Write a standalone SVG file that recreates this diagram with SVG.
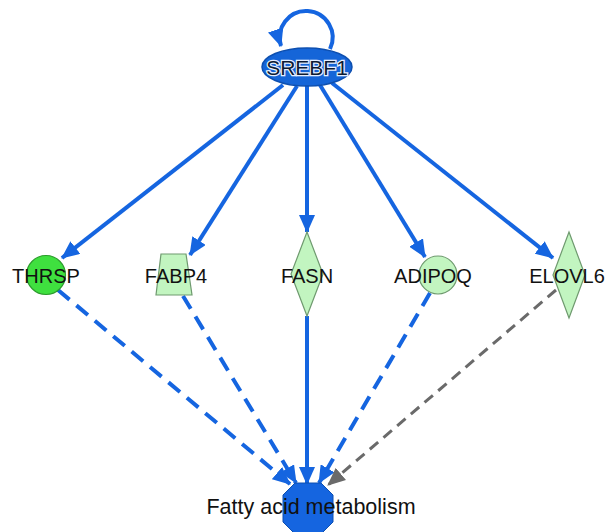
<svg xmlns="http://www.w3.org/2000/svg" width="608" height="532" viewBox="0 0 608 532">
<style>
.lbl{font-family:"Liberation Sans",Arial,sans-serif;font-size:20px;fill:#111;text-anchor:middle}
.e{fill:none;stroke:#1565e0;stroke-width:4}
.d{stroke-dasharray:15 9}
.g{fill:none;stroke:#6a6a6a;stroke-width:3;stroke-dasharray:11 7}
.lg{fill:#c2f5c0;stroke:#6f9a6f;stroke-width:1.2}
</style>
<defs>
<marker id="ab" markerUnits="userSpaceOnUse" markerWidth="18" markerHeight="16" refX="17" refY="8" orient="auto"><path d="M0,0 L18,8 L0,16 Z" fill="#1565e0"/></marker>
<marker id="ag" markerUnits="userSpaceOnUse" markerWidth="18" markerHeight="16" refX="17" refY="8" orient="auto"><path d="M0,0 L18,8 L0,16 Z" fill="#6a6a6a"/></marker>
</defs>
<rect width="608" height="532" fill="#fff"/>
<g id="connectors">
<path class="e" d="M330,49 A26.5,26.5 0 1,0 281,46" marker-end="url(#ab)"/>
<line class="e" x1="283" y1="85" x2="62" y2="258" marker-end="url(#ab)"/>
<line class="e" x1="297" y1="86" x2="190" y2="255" marker-end="url(#ab)"/>
<line class="e" x1="307" y1="85" x2="307" y2="232" marker-end="url(#ab)"/>
<line class="e" x1="320" y1="85" x2="425" y2="257" marker-end="url(#ab)"/>
<line class="e" x1="332" y1="83" x2="553" y2="258" marker-end="url(#ab)"/>
<line class="e d" x1="58" y1="290" x2="290" y2="484" marker-end="url(#ab)"/>
<line class="e d" x1="183" y1="296" x2="296" y2="483" marker-end="url(#ab)"/>
<line class="e" x1="307" y1="316" x2="307" y2="484" marker-end="url(#ab)"/>
<line class="e d" x1="430" y1="293" x2="319" y2="483" marker-end="url(#ab)"/>
<line class="g" x1="556" y1="290" x2="328" y2="485" marker-end="url(#ag)"/>
</g>
<g id="SREBF1">
<ellipse cx="307" cy="67" rx="45" ry="19" fill="#1565d8" stroke="#0d4fb0" stroke-width="1.5"/>
<text class="lbl" x="307" y="74.5" style="font-size:21px;stroke:#e6efff;stroke-width:2.5;paint-order:stroke;fill:#0d1a33">SREBF1</text>
</g>
<g id="THRSP">
<circle cx="46" cy="275" r="19.5" fill="#3fe03f" stroke="#2c9c2c" stroke-width="1.2"/>
<text class="lbl" x="46" y="283">THRSP</text>
</g>
<g id="FABP4">
<polygon class="lg" points="161,254 186,254 192,295 156,295"/>
<text class="lbl" x="176" y="283">FABP4</text>
</g>
<g id="FASN">
<polygon class="lg" points="307,232 323,274 307,316 291,274"/>
<text class="lbl" x="307" y="283">FASN</text>
</g>
<g id="ADIPOQ">
<circle cx="438" cy="275" r="19" class="lg"/>
<text class="lbl" x="433" y="283">ADIPOQ</text>
</g>
<g id="ELOVL6">
<polygon class="lg" points="569,232 585,275 569,318 553,275"/>
<text class="lbl" x="567" y="283">ELOVL6</text>
</g>
<g id="FattyAcidMetabolism">
<polygon points="295,483 321,483 333,495 333,522 321,534 295,534 283,522 283,495" fill="#1565e0" stroke="#0d4fb0" stroke-width="1"/>
<text class="lbl" x="311" y="514" style="font-size:21.5px">Fatty acid metabolism</text>
</g>
</svg>
